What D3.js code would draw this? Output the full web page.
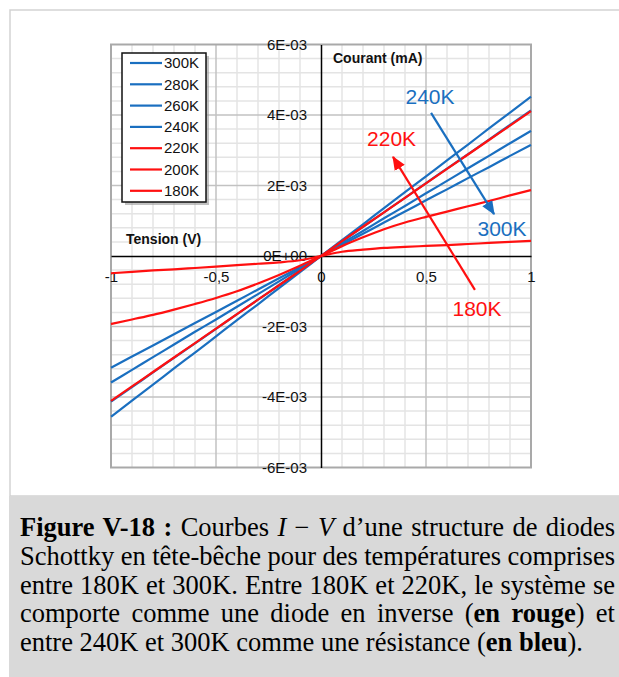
<!DOCTYPE html>
<html><head><meta charset="utf-8">
<script src="https://cdn.jsdelivr.net/npm/d3@7"></script>
<style>
body{margin:0;background:#fff;}
svg{display:block;}
</style></head><body>
<svg id="c" width="619" height="677"></svg>
<script>
// ---------- DATA ----------
const voltage = [-1,-0.9,-0.8,-0.7,-0.6,-0.5,-0.4,-0.3,-0.2,-0.1,0,0.1,0.2,0.3,0.4,0.5,0.6,0.7,0.8,0.9,1];
const seriesNames = ["300K","280K","260K","240K","220K","200K","180K"];
// current in mA (axis labels are written in A: 2E-03 = 2 mA)
const current300K = [-3.17,-2.85,-2.54,-2.22,-1.90,-1.59,-1.27,-0.95,-0.63,-0.32,0,0.32,0.63,0.95,1.26,1.58,1.89,2.21,2.52,2.84,3.15];
const current280K = [-3.59,-3.23,-2.87,-2.51,-2.15,-1.80,-1.44,-1.08,-0.72,-0.36,0,0.36,0.71,1.07,1.42,1.78,2.13,2.49,2.84,3.20,3.55];
const current260K = [-4.13,-3.72,-3.30,-2.89,-2.48,-2.07,-1.65,-1.24,-0.83,-0.41,0,0.41,0.83,1.24,1.65,2.07,2.48,2.89,3.30,3.72,4.13];
const current240K = [-4.56,-4.10,-3.65,-3.19,-2.74,-2.28,-1.82,-1.37,-0.91,-0.46,0,0.45,0.90,1.36,1.81,2.26,2.71,3.16,3.62,4.07,4.52];
const current220K = [-4.11,-3.70,-3.29,-2.88,-2.47,-2.06,-1.65,-1.24,-0.83,-0.42,0,0.42,0.83,1.24,1.65,2.06,2.47,2.88,3.29,3.70,4.11];
const current200K = [-1.93,-1.80,-1.67,-1.52,-1.36,-1.19,-1.00,-0.78,-0.54,-0.28,0,0.28,0.53,0.76,0.95,1.11,1.26,1.41,1.56,1.72,1.87];
const current180K = [-0.49,-0.45,-0.41,-0.38,-0.34,-0.30,-0.26,-0.22,-0.18,-0.12,0,0.12,0.18,0.23,0.26,0.285,0.31,0.34,0.37,0.40,0.43];
const seriesValues = [current300K,current280K,current260K,current240K,current220K,current200K,current180K];

const xTicks = [-1,-0.5,0,0.5,1];
const xTickLabels = ["-1","-0,5","0","0,5","1"];
const yTicks = [-6,-4,-2,0,2,4,6];
const yTickLabels = ["-6E-03","-4E-03","-2E-03","0E+00","2E-03","4E-03","6E-03"];

const xAxisTitle = "Tension (V)";
const yAxisTitle = "Courant (mA)";

// annotations in data coordinates (V, mA)
const annotLabels = [
  {text:"240K", v:0.519, i:4.51, group:"blue"},
  {text:"220K", v:0.336, i:3.32, group:"red"},
  {text:"300K", v:0.862, i:0.77, group:"blue"},
  {text:"180K", v:0.743, i:-1.50, group:"red"}
];
const annotArrows = [
  {v0:0.524, i0:4.06, v1:0.824, i1:1.19, group:"blue"},
  {v0:0.733, i0:-0.96, v1:0.343, i1:2.81, group:"red"}
];

const captionLines = [
  [{t:"Figure V-18 :",b:1},{t:" Courbes "},{t:"I",it:1},{t:" − "},{t:"V",it:1},{t:" d’une structure de diodes"}],
  [{t:"Schottky en tête-bêche pour des températures comprises"}],
  [{t:"entre 180K et 300K. Entre 180K et 220K, le système se"}],
  [{t:"comporte comme une diode en inverse ("},{t:"en rouge",b:1},{t:") et"}],
  [{t:"entre 240K et 300K comme une résistance ("},{t:"en bleu",b:1},{t:")."}]
];

// ---------- STYLE ----------
const colorOf = {blue:"#1a6fc0", red:"#ff1010"};
const seriesGroup = ["blue","blue","blue","blue","red","red","red"];
const sans = "'Liberation Sans', Arial, sans-serif";
const serif = "'Liberation Serif', 'Times New Roman', serif";

const svg = d3.select("#c");

// outer frame + caption box
svg.append("rect").attr("x",10).attr("y",10).attr("width",640).attr("height",486)
  .attr("fill","none").attr("stroke","#d3d3d3").attr("stroke-width",1.5);
svg.append("rect").attr("x",9).attr("y",496).attr("width",620).attr("height",190).attr("fill","#d9d9d9");

const x = d3.scaleLinear().domain([-1,1]).range([111,531]);
const y = d3.scaleLinear().domain([-6,6]).range([467.5,44.5]);

// grid
const g = svg.append("g");
const minorX = d3.range(-10,11).map(d=>d/10);
const minorY = d3.range(-15,16).map(d=>d*0.4);
g.selectAll(".mx").data(minorX.filter(d=>Math.abs(Math.round(d*10))%5!==0)).join("line")
  .attr("x1",d=>x(d)).attr("x2",d=>x(d)).attr("y1",y(-6)).attr("y2",y(6))
  .attr("stroke","#e4e4e4").attr("stroke-width",1.5);
g.selectAll(".my").data(minorY.filter(d=>Math.abs(Math.round(d*10))%20!==0)).join("line")
  .attr("y1",d=>y(d)).attr("y2",d=>y(d)).attr("x1",x(-1)).attr("x2",x(1))
  .attr("stroke","#e4e4e4").attr("stroke-width",1.5);
g.selectAll(".Mx").data([-0.5,0.5]).join("line")
  .attr("x1",d=>x(d)).attr("x2",d=>x(d)).attr("y1",y(-6)).attr("y2",y(6))
  .attr("stroke","#c2c2c2").attr("stroke-width",1.5);
g.selectAll(".My").data([-4,-2,2,4]).join("line")
  .attr("y1",d=>y(d)).attr("y2",d=>y(d)).attr("x1",x(-1)).attr("x2",x(1))
  .attr("stroke","#c2c2c2").attr("stroke-width",1.5);
g.append("rect").attr("x",x(-1)).attr("y",y(6)).attr("width",x(1)-x(-1)).attr("height",y(-6)-y(6))
  .attr("fill","none").attr("stroke","#a9a9a9").attr("stroke-width",2);

// axes
const xAxis = svg.append("g").attr("transform",`translate(0,${y(0)})`)
  .call(d3.axisBottom(x).tickValues(xTicks).tickFormat((d,i)=>xTickLabels[i]).tickSize(0).tickPadding(14));
const yAxis = svg.append("g").attr("transform",`translate(${x(0)},0)`)
  .call(d3.axisLeft(y).tickValues(yTicks).tickFormat((d,i)=>yTickLabels[i]).tickSize(0).tickPadding(14));
[xAxis,yAxis].forEach(a=>{
  a.select(".domain").attr("stroke","#000").attr("stroke-width",1.5);
  a.selectAll("text").attr("font-family",sans).attr("font-size",15).attr("fill","#111");
});
xAxis.selectAll("text").attr("dy","0.32em").attr("y",21);

// axis titles
svg.append("text").attr("x",x(-1)+15).attr("y",y(0)-12).attr("font-family",sans).attr("font-weight","bold")
  .attr("font-size",14).attr("fill","#111").text(xAxisTitle);
svg.append("text").attr("x",x(0)+12).attr("y",y(6)+18).attr("font-family",sans).attr("font-weight","bold")
  .attr("font-size",14).attr("fill","#111").text(yAxisTitle);

// series
const line = d3.line().x((d,i)=>x(voltage[i])).y(d=>y(d)).curve(d3.curveMonotoneX);
svg.append("g").selectAll("path").data(seriesValues).join("path")
  .attr("d",d=>line(d)).attr("fill","none")
  .attr("stroke",(d,i)=>colorOf[seriesGroup[i]]).attr("stroke-width",2.2);

// legend
const lg = svg.append("g");
lg.append("rect").attr("x",125).attr("y",56).attr("width",84).attr("height",149).attr("fill","#9a9a9a").attr("opacity",0.6);
lg.append("rect").attr("x",122).attr("y",53).attr("width",84).attr("height",149).attr("fill","#fff")
  .attr("stroke","#111").attr("stroke-width",1.5);
const items = lg.selectAll(".it").data(seriesNames).join("g")
  .attr("transform",(d,i)=>`translate(0,${63+i*21.3})`);
items.append("line").attr("x1",130).attr("x2",162).attr("stroke",(d,i)=>colorOf[seriesGroup[i]]).attr("stroke-width",2.2);
items.append("text").attr("x",164).attr("dy","0.35em").attr("font-family",sans).attr("font-size",15).attr("fill","#111").text(d=>d);

// annotations
const defs = svg.append("defs");
["blue","red"].forEach(k=>{
  defs.append("marker").attr("id","ar-"+k).attr("viewBox","0 0 12 10").attr("refX",11).attr("refY",5)
    .attr("markerWidth",14).attr("markerHeight",12).attr("markerUnits","userSpaceOnUse").attr("orient","auto")
    .append("path").attr("d","M0,0 L12,5 L0,10 Z").attr("fill",colorOf[k]);
});
svg.append("g").selectAll("line").data(annotArrows).join("line")
  .attr("x1",d=>x(d.v0)).attr("y1",d=>y(d.i0)).attr("x2",d=>x(d.v1)).attr("y2",d=>y(d.i1))
  .attr("stroke",d=>colorOf[d.group]).attr("stroke-width",2.2).attr("marker-end",d=>`url(#ar-${d.group})`);
svg.append("g").selectAll("text").data(annotLabels).join("text")
  .attr("x",d=>x(d.v)).attr("y",d=>y(d.i)).attr("text-anchor","middle").attr("dy","0.35em")
  .attr("font-family",sans).attr("font-size",21).attr("fill",d=>colorOf[d.group]).text(d=>d.text);

// caption
const cap = svg.append("g");
captionLines.forEach((parts,li)=>{
  const t = cap.append("text").attr("x",20).attr("y",536+li*28.8)
    .attr("font-family",serif).attr("font-size",26.5).attr("fill","#000").style("white-space","pre");
  parts.forEach(p=>{
    t.append("tspan").text(p.t).attr("font-weight",p.b?"bold":null).attr("font-style",p.it?"italic":null);
  });
  if (li < captionLines.length-1) {
    const natural = t.node().getComputedTextLength();
    const spaces = parts.map(p=>p.t).join("").split(" ").length-1;
    t.attr("word-spacing",(595-natural)/spaces);
  }
});
</script>
</body></html>
